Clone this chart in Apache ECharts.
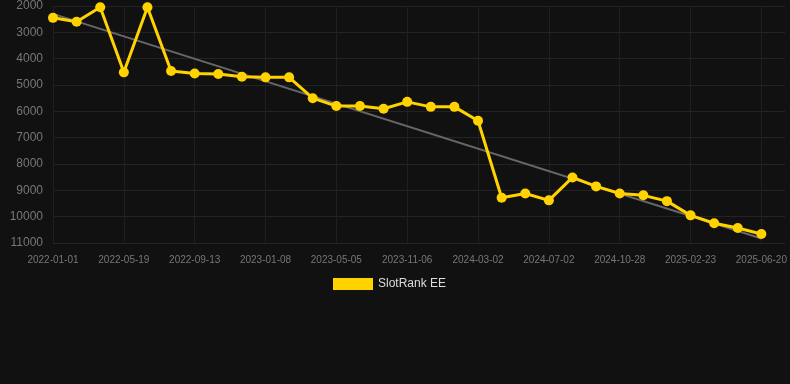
<!DOCTYPE html>
<html>
<head>
<meta charset="utf-8">
<script src="https://cdn.jsdelivr.net/npm/echarts@6/dist/echarts.min.js"></script>
<style>
html,body{margin:0;padding:0;background:#111111;}
#c{width:790px;height:384px;}
</style>
</head>
<body>
<div id="c"></div>
<script>
var dates = ['2022-01-01','2022-02-15','2022-04-02','2022-05-19','2022-06-27','2022-08-05','2022-09-13','2022-10-22','2022-11-30','2023-01-08','2023-02-15','2023-03-28','2023-05-05','2023-07-06','2023-09-05','2023-11-06','2023-12-15','2024-01-23','2024-03-02','2024-04-12','2024-05-22','2024-07-02','2024-08-10','2024-09-19','2024-10-28','2024-12-06','2025-01-14','2025-02-23','2025-04-03','2025-05-12','2025-06-20','2025-07-29'];
var ranks = [2450,2600,2050,4520,2050,4470,4560,4580,4690,4710,4710,5500,5800,5800,5900,5640,5830,5830,6360,9280,9120,9380,8510,8850,9120,9190,9410,9950,10250,10430,10660];
var trendStart = 2300;
var trendEnd = 10830;
var seriesName = 'SlotRank EE';

var trendData = [[dates[0], trendStart], [dates[ranks.length - 1], trendEnd]];
var lastIdx = ranks.length - 1;

var chart = echarts.init(document.getElementById('c'));
chart.setOption({
  backgroundColor: '#111111',
  animation: false,
  grid: {left: 53, right: 5, top: 6, bottom: 141, containLabel: false},
  legend: {
    data: [seriesName],
    top: 273,
    left: 328,
    itemWidth: 40,
    itemHeight: 12,
    textStyle: {color: '#dddddd', fontSize: 12, fontFamily: 'Liberation Sans, Arial, sans-serif'},
    icon: 'rect'
  },
  xAxis: {
    type: 'category',
    data: dates,
    boundaryGap: false,
    axisLine: {show: false},
    axisTick: {show: false},
    axisLabel: {interval: 2, color: '#777777', fontSize: 10, margin: 12, fontFamily: 'Liberation Sans, Arial, sans-serif'},
    splitLine: {show: true, interval: function (i) { return i % 3 === 0 && i <= lastIdx; }, lineStyle: {color: '#1f1f1f', width: 1}}
  },
  yAxis: {
    type: 'value',
    inverse: true,
    min: 2000,
    max: 11000,
    interval: 1000,
    axisLine: {show: false},
    axisTick: {show: false},
    axisLabel: {color: '#777777', fontSize: 12, margin: 10, formatter: function (v) { return String(v); }, fontFamily: 'Liberation Sans, Arial, sans-serif'},
    splitLine: {show: true, lineStyle: {color: '#232323', width: 1}}
  },
  series: [
    {
      name: 'trend',
      type: 'line',
      data: trendData,
      symbol: 'none',
      lineStyle: {color: '#666666', width: 2},
      silent: true,
      z: 1
    },
    {
      name: seriesName,
      type: 'line',
      data: ranks,
      symbol: 'circle',
      symbolSize: 10,
      itemStyle: {color: '#FFD200'},
      lineStyle: {color: '#FFD200', width: 3},
      z: 3
    }
  ]
});
</script>
</body>
</html>
